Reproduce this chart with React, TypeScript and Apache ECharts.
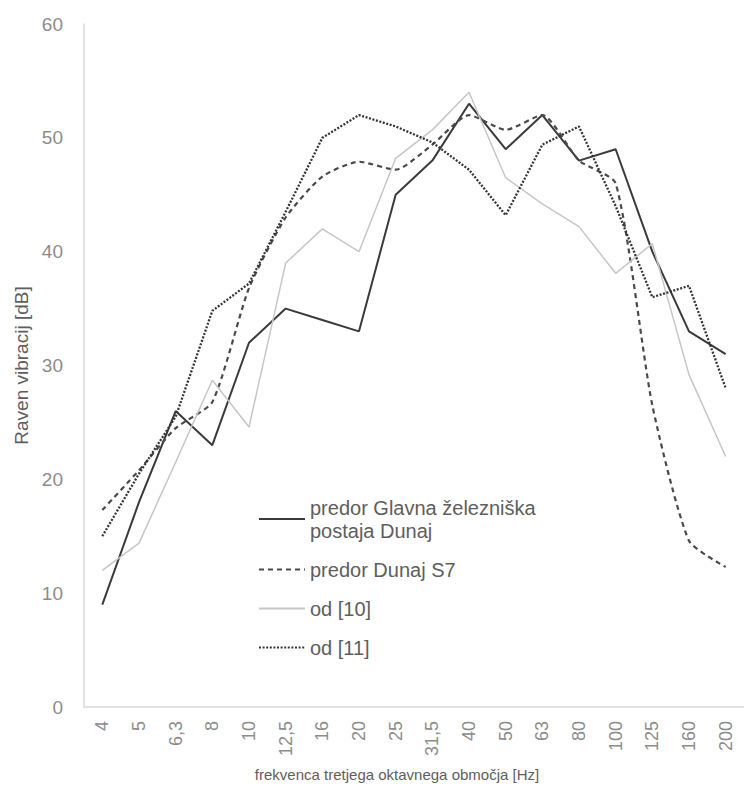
import React, { useEffect, useRef } from "react";
import * as echarts from "echarts";

const categories = ["4", "5", "6,3", "8", "10", "12,5", "16", "20", "25", "31,5", "40", "50", "63", "80", "100", "125", "160", "200"];
const seriesNames = ["predor Glavna železniška\npostaja Dunaj", "predor Dunaj S7", "od [10]", "od [11]"];
const glavnaPostaja = [9, 18, 26, 23, 32, 35, 34, 33, 45, 48, 53, 49, 52, 48, 49, 40, 33, 31];
const dunajS7 = [17.3, 20.8, 24.5, 26.8, 36.8, 43, 46.6, 47.9, 47.2, 49.4, 52, 50.7, 52, 48, 46, 26.5, 14.6, 12.3];
const od10 = [12, 14.4, 21.5, 28.7, 24.6, 39, 42, 40, 48.2, 50.7, 54, 46.5, 44.2, 42.2, 38.1, 40.7, 29.2, 22];
const od11 = [15, 20.5, 25.5, 34.8, 37.2, 43.5, 50, 52, 51, 49.6, 47.2, 43.2, 49.4, 51, 44, 36, 37, 28];
const yTicks = { min: 0, max: 60, interval: 10 };

export default function App() {
  const ref = useRef<HTMLDivElement>(null);
  useEffect(() => {
    document.body.style.margin = "0";
    const chart = echarts.init(ref.current!, null, { renderer: "svg" });
    const font = "Liberation Sans, Arial, sans-serif";
    chart.setOption({
      animation: false,
      backgroundColor: "#ffffff",
      textStyle: { fontFamily: font },
      grid: { left: 84, top: 24, width: 672, height: 683, containLabel: false },
      legend: {
        orient: "vertical",
        left: 253,
        top: 491,
        itemWidth: 46,
        itemHeight: 14,
        itemGap: 16,
        itemStyle: { opacity: 0 },
        textStyle: { fontSize: 20, color: "#5e5e5e", lineHeight: 23, fontFamily: font },
        data: seriesNames,
      },
      xAxis: {
        type: "category",
        data: categories,
        boundaryGap: true,
        axisLine: { show: true, lineStyle: { color: "#d9d9d9", width: 1.5 } },
        axisTick: { show: false },
        axisLabel: { rotate: 90, fontSize: 18, color: "#8c8c8c", margin: 14, interval: 0, fontFamily: font },
        name: "frekvenca tretjega oktavnega območja [Hz]",
        nameLocation: "middle",
        nameGap: 60,
        nameTextStyle: { fontSize: 15, color: "#5e5e5e", padding: [0, 34, 0, 0], fontFamily: font },
      },
      yAxis: {
        type: "value",
        min: yTicks.min,
        max: yTicks.max,
        interval: yTicks.interval,
        axisLine: { show: true, lineStyle: { color: "#d9d9d9", width: 1.5 } },
        axisTick: { show: false },
        splitLine: { show: false },
        axisLabel: { fontSize: 19, color: "#8c8c8c", margin: 21, fontFamily: font },
        name: "Raven vibracij [dB]",
        nameLocation: "middle",
        nameGap: 50,
        nameTextStyle: { fontSize: 19, color: "#5e5e5e", fontFamily: font },
      },
      series: [
        {
          name: seriesNames[0],
          type: "line",
          data: glavnaPostaja,
          symbol: "none",
          lineStyle: { color: "#3a3a3a", width: 2, type: "solid" },
          itemStyle: { color: "#3a3a3a" },
        },
        {
          name: seriesNames[1],
          type: "line",
          data: dunajS7,
          symbol: "none",
          smooth: 0.2,
          lineStyle: { color: "#4a4a4a", width: 2.2, type: [5, 4] },
          itemStyle: { color: "#4a4a4a" },
        },
        {
          name: seriesNames[2],
          type: "line",
          data: od10,
          symbol: "none",
          lineStyle: { color: "#c6c6c6", width: 1.5, type: "solid" },
          itemStyle: { color: "#c6c6c6" },
        },
        {
          name: seriesNames[3],
          type: "line",
          data: od11,
          symbol: "none",
          lineStyle: { color: "#353535", width: 2.3, type: [2, 1.6] },
          itemStyle: { color: "#353535" },
        },
      ],
    });
    return () => chart.dispose();
  }, []);
  return <div ref={ref} style={{ width: 744, height: 789 }} />;
}
